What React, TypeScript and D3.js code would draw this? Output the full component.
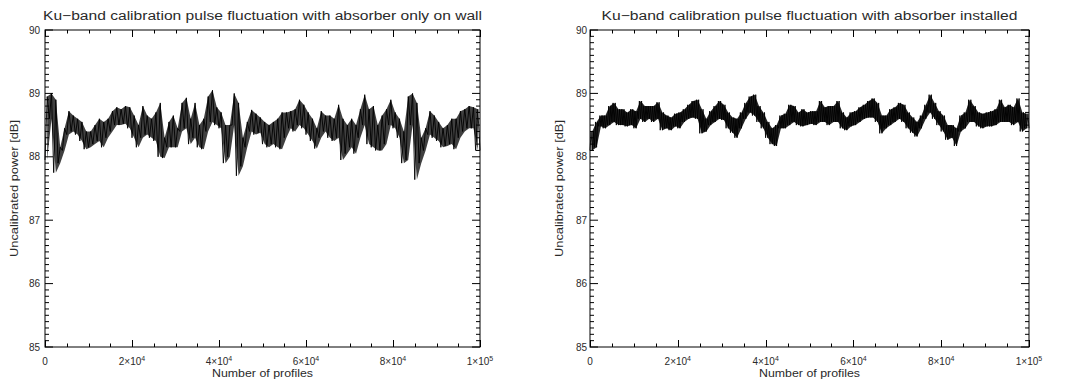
import React from "react";
import * as d3 from "d3";

const wallLo = [
  87.95, 88.6, 87.75, 87.9, 88.1, 88.35, 88.4, 88.35, 88.25, 88.12,
  88.15, 88.2, 88.25, 88.15, 88.3, 88.4, 88.5, 88.5, 88.52, 88.45,
  88.3, 88.15, 88.3, 88.35, 88.3, 88.25, 88.0, 87.98, 88.15, 88.15,
  88.15, 88.4, 88.45, 88.2, 88.3, 88.15, 88.12, 88.4, 88.55, 88.5,
  88.45, 87.9, 88.0, 88.5, 87.7, 87.85, 88.15, 88.4, 88.35, 88.38,
  88.2, 88.15, 88.2, 88.15, 88.12, 88.3, 88.45, 88.4, 88.5, 88.45,
  88.35, 88.25, 88.13, 88.3, 88.4, 88.3, 88.25, 88.3, 87.95, 88.05,
  88.15, 88.05, 88.3, 88.5, 88.2, 88.15, 88.1, 88.1, 88.2, 88.5,
  88.45, 88.3, 87.9, 87.95, 88.5, 87.64, 87.9, 88.1, 88.35, 88.3,
  88.25, 88.15, 88.17, 88.2, 88.12, 88.3, 88.4, 88.45, 88.45, 88.1,
];
const wallHi = [
  88.95, 89.0, 88.9, 88.15, 88.45, 88.72, 88.65, 88.6, 88.55, 88.4,
  88.4, 88.5, 88.6, 88.55, 88.6, 88.72, 88.78, 88.75, 88.8, 88.78,
  88.65, 88.5, 88.8, 88.65, 88.6, 88.7, 88.85, 88.3, 88.55, 88.65,
  88.45, 88.85, 88.93, 88.6, 88.85, 88.5, 88.6, 88.95, 89.05, 88.78,
  88.7, 88.5, 88.5, 89.0, 88.85, 88.3, 88.55, 88.74, 88.68, 88.62,
  88.55, 88.5, 88.55, 88.6, 88.7, 88.7, 88.72, 88.75, 88.9, 88.82,
  88.7, 88.6, 88.45, 88.72, 88.65, 88.65, 88.6, 88.82, 88.6, 88.5,
  88.6, 88.5, 88.75, 88.98, 88.75, 88.8, 88.5, 88.65, 88.75, 88.9,
  88.7, 88.6, 88.4, 88.95, 89.0, 88.85, 88.3, 88.45, 88.72, 88.65,
  88.55, 88.45, 88.5, 88.6, 88.6, 88.72, 88.75, 88.8, 88.78, 88.75,
];
const installedLo = [
  88.1, 88.15, 88.48, 88.45, 88.5, 88.55, 88.5, 88.5, 88.48, 88.5,
  88.45, 88.6, 88.55, 88.6, 88.55, 88.6, 88.42, 88.45, 88.42, 88.48,
  88.45, 88.55, 88.6, 88.62, 88.6, 88.37, 88.4, 88.5, 88.55, 88.6,
  88.58, 88.45, 88.38, 88.3, 88.45, 88.6, 88.7, 88.65, 88.55, 88.45,
  88.3, 88.2, 88.17, 88.45, 88.45, 88.5, 88.55, 88.5, 88.48, 88.5,
  88.52, 88.5, 88.55, 88.55, 88.5, 88.55, 88.55, 88.45, 88.42, 88.48,
  88.5, 88.55, 88.6, 88.62, 88.62, 88.55, 88.37, 88.45, 88.5, 88.55,
  88.6, 88.55, 88.45, 88.38, 88.32, 88.45, 88.6, 88.7, 88.6, 88.5,
  88.4, 88.27, 88.3, 88.17, 88.4, 88.45, 88.55, 88.55, 88.48, 88.45,
  88.48, 88.48, 88.5, 88.55, 88.55, 88.55, 88.5, 88.55, 88.4, 88.45,
];
const installedHi = [
  88.4, 88.55, 88.65, 88.65, 88.8, 88.85, 88.75, 88.75, 88.7, 88.75,
  88.72, 88.88, 88.8, 88.8, 88.8, 88.86, 88.7, 88.65, 88.62, 88.68,
  88.7, 88.75, 88.82, 88.88, 88.9, 88.75, 88.6, 88.72, 88.8, 88.88,
  88.82, 88.7, 88.62, 88.6, 88.7, 88.85, 88.95, 88.98, 88.8, 88.7,
  88.55, 88.45, 88.5, 88.65, 88.68, 88.82, 88.8, 88.7, 88.75, 88.7,
  88.72, 88.72, 88.88, 88.78, 88.8, 88.8, 88.88, 88.7, 88.62, 88.7,
  88.72, 88.78, 88.82, 88.88, 88.92, 88.85, 88.65, 88.65, 88.75, 88.78,
  88.85, 88.82, 88.7, 88.62, 88.55, 88.65, 88.82, 88.98, 88.85, 88.72,
  88.65, 88.5, 88.5, 88.45, 88.65, 88.7, 88.9, 88.8, 88.7, 88.68,
  88.7, 88.72, 88.75, 88.9, 88.78, 88.82, 88.78, 88.92, 88.7, 88.68,
];

const xTickValues = [0, 20000, 40000, 60000, 80000, 100000];
const xTickMantissa = ["0", "2", "4", "6", "8", "1"];
const xTickExponent = ["", "4", "4", "4", "4", "5"];
const yTickValues = [85, 86, 87, 88, 89, 90];

const titles = [
  "Ku\u2212band calibration pulse fluctuation with absorber only on wall",
  "Ku\u2212band calibration pulse fluctuation with absorber installed",
];
const xTitle = "Number of profiles";
const yTitle = "Uncalibrated power [dB]";

const FONT = "'Liberation Sans', Arial, sans-serif";
const TXT = "#2a2a2a";

type PanelProps = {
  x0: number;
  x1: number;
  lo: number[];
  hi: number[];
  title: string;
  titleLen: number;
  labelGap: number;
  bandOpacity: number;
  cycles: number;
};

function Panel({ x0, x1, lo, hi, title, titleLen, labelGap, bandOpacity, cycles }: PanelProps) {
  const y0 = 30;
  const y1 = 347;
  const x = d3.scaleLinear().domain([0, 100000]).range([x0, x1]);
  const y = d3.scaleLinear().domain([85, 90]).range([y1, y0]);

  // zig-zag trace through the per-bin extremes
  const nb = lo.length;
  const binW = 100000 / nb;
  const pts: [number, number][] = [];
  lo.forEach((v, i) => {
    for (let c = 0; c < cycles; c++) {
      const s = binW / cycles;
      pts.push([i * binW + c * s, v]);
      pts.push([i * binW + c * s + s / 2, hi[i]]);
    }
  });
  pts.push([100000, lo[nb - 1]]);
  const line = d3
    .line<[number, number]>()
    .x((d) => x(d[0]))
    .y((d) => y(d[1]));

  const band = d3
    .area<number>()
    .x((_, i) => x((i + 0.5) * binW))
    .y0((_, i) => y(lo[i]))
    .y1((_, i) => y(hi[i]));

  const xMinor = d3.range(0, 100001, 5000);
  const yMinor = d3.range(85, 90.0001, 0.1);
  const cx = (x0 + x1) / 2;
  const cy = (y0 + y1) / 2;

  return (
    <g>
      <path d={band(lo) || ""} fill="#000" opacity={bandOpacity} />
      <path d={line(pts) || ""} fill="none" stroke="#000" strokeWidth={0.9} />
      {xMinor.map((v, i) => {
        const major = i % 4 === 0;
        const L = major ? 7 : 3.5;
        const px = Math.round(x(v)) + 0.5;
        return (
          <g key={"xt" + i}>
            <line x1={px} x2={px} y1={y1} y2={y1 - L} stroke="#000" />
            <line x1={px} x2={px} y1={y0} y2={y0 + L} stroke="#000" />
          </g>
        );
      })}
      {yMinor.map((v, i) => {
        const major = i % 10 === 0;
        const L = major ? 8 : 4;
        const py = y(v);
        return (
          <g key={"yt" + i}>
            <line x1={x0} x2={x0 + L} y1={py} y2={py} stroke="#000" />
            <line x1={x1} x2={x1 - L} y1={py} y2={py} stroke="#000" />
          </g>
        );
      })}
      <rect x={x0} y={y0} width={x1 - x0} height={y1 - y0} fill="none" stroke="#000" strokeWidth={1} />
      {xTickValues.map((v, i) => (
        <text
          key={"xl" + i}
          x={x(v)}
          y={365}
          textAnchor="middle"
          fontFamily={FONT}
          fontSize={10}
          fill={TXT}
        >
          {xTickExponent[i] === "" ? (
            xTickMantissa[i]
          ) : (
            <>
              {xTickMantissa[i] + "\u00d710"}
              <tspan fontSize={7} dy={-4}>
                {xTickExponent[i]}
              </tspan>
            </>
          )}
        </text>
      ))}
      {yTickValues.map((v) => (
        <text
          key={"yl" + v}
          x={x0 - labelGap}
          y={y(v) + 3.5}
          textAnchor="end"
          fontFamily={FONT}
          fontSize={10}
          fill={TXT}
        >
          {v}
        </text>
      ))}
      <text
        x={cx}
        y={377}
        textAnchor="middle"
        fontFamily={FONT}
        fontSize={10.5}
        fill={TXT}
        textLength={101}
        lengthAdjust="spacingAndGlyphs"
      >
        {xTitle}
      </text>
      <text
        transform={`translate(${x0 - 27},${cy}) rotate(-90)`}
        textAnchor="middle"
        fontFamily={FONT}
        fontSize={10.5}
        fill={TXT}
        textLength={137}
        lengthAdjust="spacingAndGlyphs"
      >
        {yTitle}
      </text>
      <text
        x={cx}
        y={20}
        textAnchor="middle"
        fontFamily={FONT}
        fontSize={12.5}
        fontWeight={300}
        fill={TXT}
        textLength={titleLen}
        lengthAdjust="spacingAndGlyphs"
      >
        {title}
      </text>
    </g>
  );
}

export default function App() {
  return (
    <svg
      width={1067}
      height={384}
      style={{ position: "absolute", left: 0, top: 0, background: "#fff" }}
    >
      <rect width={1067} height={384} fill="#fff" />
      <Panel x0={45} x1={480} lo={wallLo} hi={wallHi} title={titles[0]} titleLen={439} labelGap={5} bandOpacity={0.75} cycles={1} />
      <Panel x0={590} x1={1029} lo={installedLo} hi={installedHi} title={titles[1]} titleLen={416} labelGap={3} bandOpacity={0.85} cycles={2} />
    </svg>
  );
}
